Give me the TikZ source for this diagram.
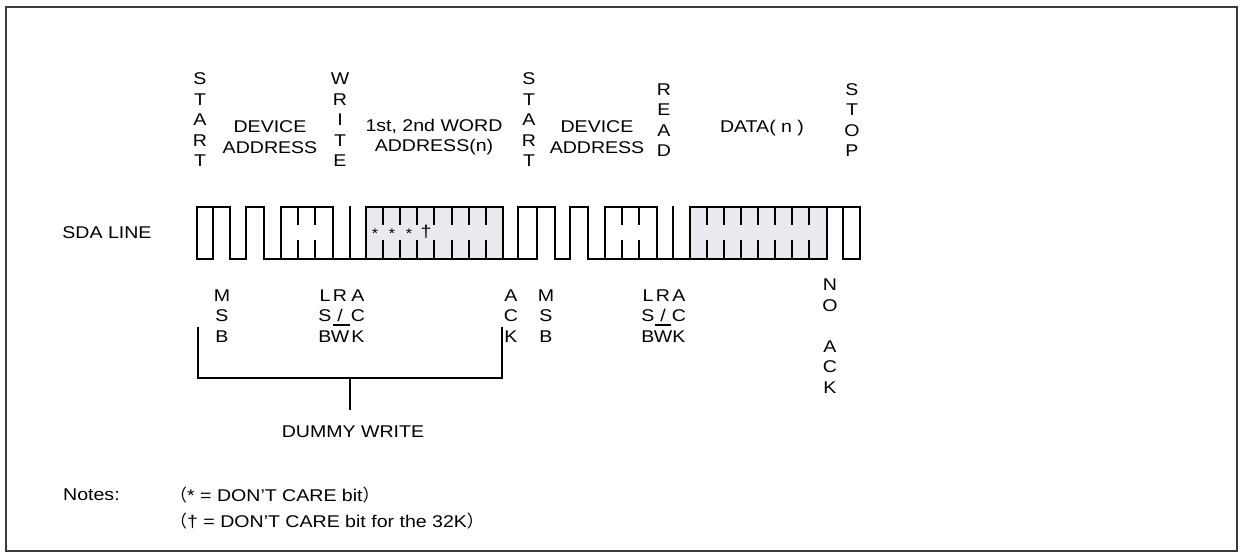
\documentclass[tikz,border=0pt]{standalone}
\usepackage{fontspec}
\setmainfont{Liberation Sans}[FakeStretch=1.15]
\newfontfamily\cjk{Noto Sans CJK SC}
\definecolor{boxgray}{RGB}{232,234,240}
\definecolor{framegray}{RGB}{60,60,60}
\begin{document}
\begin{tikzpicture}[x=1pt,y=-1pt,
  wave/.style={line width=2.9pt, line join=miter, line cap=rect},
  tick/.style={line width=2.9pt},
  lab/.style={font=\fontsize{17}{20.5}\selectfont, inner sep=0pt, align=center},
  note/.style={font=\fontsize{17}{20.5}\selectfont, inner sep=0pt, anchor=west},
  brace/.style={line width=2.6pt},
  starsty/.style={font=\fontsize{14}{14}\selectfont, inner sep=0pt}]
\useasboundingbox (0,0) rectangle (1244,557);
\draw[line width=1.3pt, draw=framegray] (6,7) rectangle (1237,551);

% ---------- waveform ----------
% first START
\draw[wave] (197,259) rectangle (213,207);
\draw[wave] (213,207) -- (230,207) -- (230,259) -- (246,259) -- (246,207) -- (264,207) -- (264,259) -- (537,259);
% device address box 1
\draw[wave] (281,259) rectangle (333,207);
\foreach \x in {298,315} {\draw[tick] (\x,207) -- (\x,225); \draw[tick] (\x,240) -- (\x,259);}
\draw[wave] (350,259) -- (350,207);
% word address box
\filldraw[wave, fill=boxgray] (366,259) rectangle (503,207);
\foreach \x in {383,400,417,434,452,469,486} {\draw[tick] (\x,207) -- (\x,225); \draw[tick] (\x,240) -- (\x,259);}
\node[starsty] (st1) at (375,234) {*};
\node[starsty] (st2) at (392,234) {*};
\node[starsty] (st3) at (409,234) {*};
\node[font=\fontsize{17}{17}\selectfont, inner sep=0pt] (dg) at (426,232) {†};
% second START
\draw[wave] (518,259) rectangle (537,207);
\draw[wave] (537,207) -- (555,207) -- (555,259) -- (570,259) -- (570,207) -- (588,207) -- (588,259) -- (827,259);
% device address box 2
\draw[wave] (605,259) rectangle (657,207);
\foreach \x in {622,639} {\draw[tick] (\x,207) -- (\x,225); \draw[tick] (\x,240) -- (\x,259);}
\draw[wave] (673,259) -- (673,207);
% data box
\filldraw[wave, fill=boxgray] (690,259) rectangle (827,207);
\foreach \x in {707,724,741,758,775,792,809} {\draw[tick] (\x,207) -- (\x,225); \draw[tick] (\x,240) -- (\x,259);}
% NO ACK + STOP
\draw[wave] (827,207) -- (860,207) -- (860,259) -- (843,259) -- (843,207);

% ---------- top labels ----------
\node[lab] (start1) at (200,120) {S\\T\\A\\R\\T};
\node[lab] (dev1) at (270,137) {DEVICE\\ADDRESS};
\node[lab] (write) at (340,120) {W\\R\\I\\T\\E};
\node[lab] (word) at (434,137) {1st, 2nd WORD\\ADDRESS(n)};
\node[lab] (start2) at (529,120) {S\\T\\A\\R\\T};
\node[lab] (dev2) at (597,137) {DEVICE\\ADDRESS};
\node[lab] (read) at (664,120) {R\\E\\A\\D};
\node[lab] (data) at (762,128) {DATA( n )};
\node[lab] (stop) at (852,120) {S\\T\\O\\P};

\node[lab, anchor=center] (sda) at (107,233) {SDA LINE};

% ---------- bottom labels ----------
\node[lab] (msb1) at (222,316) {M\\S\\B};
\node[lab] (lsb1) at (325,316) {L\\S\\B};
\node[lab] (rw1) at (340,316) {R\\/\\W};
\node[lab] (ack1) at (358,316) {A\\C\\K};
\draw[line width=2.6pt] (333,325) -- (350,325);
\node[lab] (ack2) at (511,316) {A\\C\\K};
\node[lab] (msb2) at (546,316) {M\\S\\B};
\node[lab] (lsb2) at (648,316) {L\\S\\B};
\node[lab] (rw2) at (663,316) {R\\/\\W};
\node[lab] (ack3) at (679,316) {A\\C\\K};
\draw[line width=2.6pt] (655,325) -- (671,325);
\node[lab] (noack) at (830,336) {N\\O\\ \\A\\C\\K};

% ---------- dummy write bracket ----------
\coordinate (bl) at (198,327);
\coordinate (br) at (502,327);
\coordinate (bm) at (350,378);
\draw[brace] (bl) -- (198,378) -- (502,378) -- (br);
\draw[brace] (bm) -- (350,410);
\node[lab] (dummy) at (353,432) {DUMMY WRITE};

% ---------- notes ----------
\node[note] (notes) at (63,495) {Notes:};
\node[note] (n1) at (170,495) {{\cjk （}* = DON’T CARE bit{\cjk ）}};
\node[note] (n2) at (170,521) {{\cjk （}† = DON’T CARE bit for the 32K{\cjk ）}};
\end{tikzpicture}
\end{document}
